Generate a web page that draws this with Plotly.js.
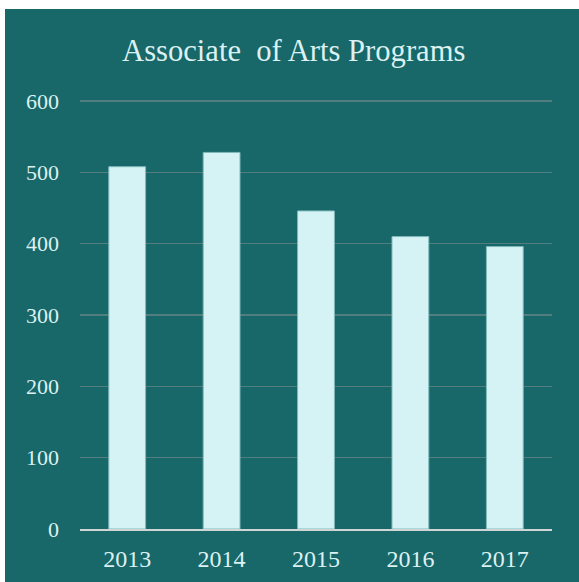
<!DOCTYPE html>
<html>
<head>
<meta charset="utf-8">
<script src="https://cdn.plot.ly/plotly-3.0.1.min.js"></script>
<style>
html,body{margin:0;padding:0;background:#ffffff;}
#wrap{position:relative;width:579px;height:582px;background:#ffffff;overflow:hidden;}
#chart{position:absolute;left:5px;top:9px;width:574px;height:573px;}
</style>
</head>
<body>
<div id="wrap"><div id="chart"></div></div>
<script>
const years = ['2013', '2014', '2015', '2016', '2017'];
const programs = [508, 528, 446, 410, 396];
const yTicks = [0, 100, 200, 300, 400, 500, 600];

const trace = {
  type: 'bar',
  x: years,
  y: programs,
  marker: {color: '#d5f3f4', line: {color: '#7fb9bb', width: 1}},
  hoverinfo: 'none'
};

const layout = {
  width: 574,
  height: 573,
  paper_bgcolor: '#186769',
  plot_bgcolor: '#186769',
  margin: {l: 75, r: 27, t: 91, b: 53},
  bargap: 0.61,
  showlegend: false,
  font: {family: '"Liberation Serif", "Times New Roman", serif', color: '#dcf1f1', size: 22},
  title: {
    text: 'Associate&nbsp; of Arts Programs',
    font: {family: '"Liberation Serif", "Times New Roman", serif', size: 30.6, color: '#dcf1f1'},
    x: 0.503, xanchor: 'center', y: 0.928, yanchor: 'middle'
  },
  xaxis: {
    type: 'category',
    showgrid: false,
    showline: true,
    linecolor: '#d0d6d6',
    linewidth: 2,
    ticks: '',
    tickfont: {size: 24, color: '#dcf1f1'},
    ticklabelstandoff: 7
  },
  yaxis: {
    range: [0, 601.5],
    tickvals: yTicks,
    ticktext: yTicks.map(String),
    showgrid: true,
    gridcolor: '#527e80',
    gridwidth: 1.5,
    zeroline: false,
    showline: false,
    ticks: '',
    tickfont: {size: 22, color: '#dcf1f1'},
    ticklabelstandoff: 20
  }
};

Plotly.newPlot('chart', [trace], layout, {displayModeBar: false, staticPlot: true});
</script>
</body>
</html>
